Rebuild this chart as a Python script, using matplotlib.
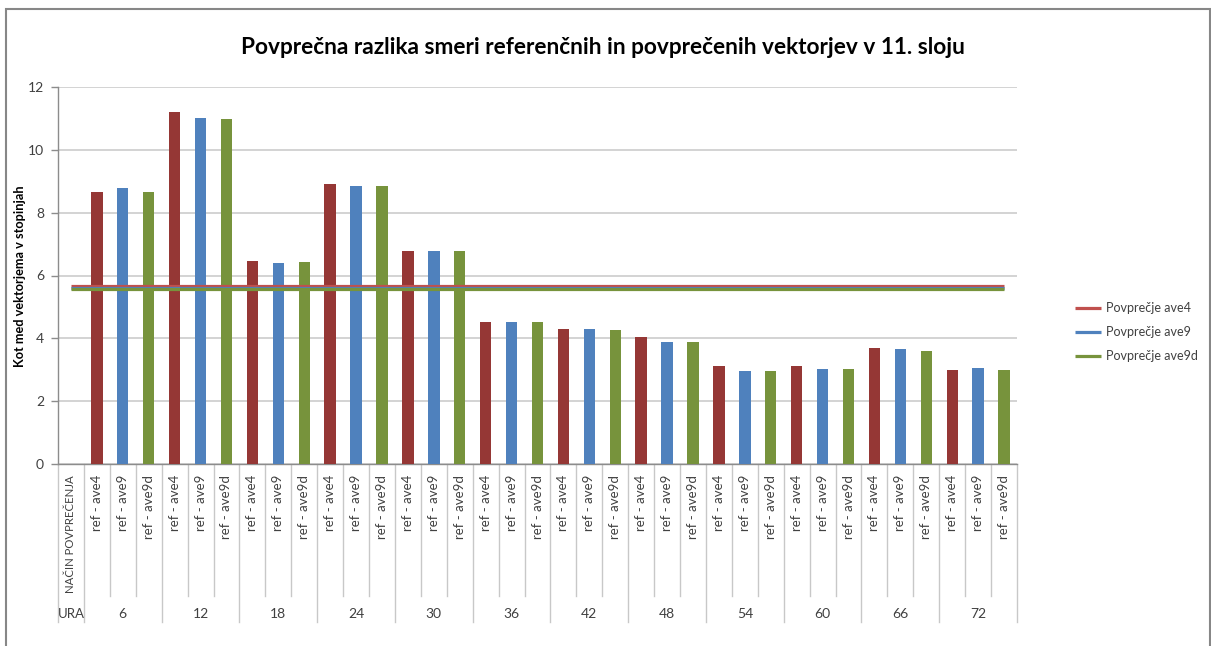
import numpy as np
import matplotlib
matplotlib.use("Agg")
import matplotlib.pyplot as plt
from matplotlib import transforms
from matplotlib.patches import Rectangle

# ---- data -------------------------------------------------------------
hours = ["6", "12", "18", "24", "30", "36", "42", "48", "54", "60", "66", "72"]
methods = ["ref - ave4", "ref - ave9", "ref - ave9d"]
ave4 = [8.67, 11.19, 6.45, 8.92, 6.79, 4.51, 4.31, 4.03, 3.11, 3.11, 3.69, 3.00]
ave9 = [8.77, 11.01, 6.41, 8.84, 6.79, 4.53, 4.31, 3.88, 2.95, 3.02, 3.65, 3.05]
ave9d = [8.67, 10.99, 6.43, 8.86, 6.77, 4.51, 4.28, 3.88, 2.95, 3.02, 3.61, 2.98]
avg_labels = ["Povprečje ave4", "Povprečje ave9", "Povprečje ave9d"]
avg_values = [5.65, 5.60, 5.58]
y_ticks = [0, 2, 4, 6, 8, 10, 12]
title = "Povprečna razlika smeri referenčnih in povprečenih vektorjev v 11. sloju"
ylabel = "Kot med vektorjema v stopinjah"
header_method = "NAČIN POVPREČENJA"
header_hour = "URA"

# ---- style ------------------------------------------------------------
FONT = ["Lato", "DejaVu Sans"]
plt.rcParams["font.family"] = FONT
W, H = 1211, 646
bar_colors = ["#953735", "#4F81BD", "#77933C"]
line_colors = ["#C0504D", "#4F81BD", "#77933C"]
grid_col = "#D0D0D0"
axis_col = "#8C8C8C"
text_col = "#404040"

fig = plt.figure(figsize=(W / 100, H / 100), dpi=100)
fig.patch.set_facecolor("white")


def fx(px):
    return px / W


def fy(py):
    return 1 - py / H


ax = fig.add_axes([fx(58), fy(464), fx(1017) - fx(58), fy(87) - fy(464)])

n_slots = 1 + len(hours) * len(methods)
ax.set_xlim(0, n_slots)
ax.set_ylim(0, 12)

# bars: slot 0 is the header column of the category table
series = [ave4, ave9, ave9d]
for m, vals in enumerate(series):
    xs = [1 + 3 * h + m + 0.5 for h in range(len(hours))]
    ax.bar(xs, vals, width=0.44, color=bar_colors[m], zorder=3)

# average lines across every category slot
slot_centers = np.arange(n_slots) + 0.5
handles = []
for k, v in enumerate(avg_values):
    ln, = ax.plot(slot_centers, [v] * n_slots, color=line_colors[k], lw=2.3,
                  solid_capstyle="butt", zorder=4 + k, label=avg_labels[k])
    handles.append(ln)

# y axis
ax.set_yticks(y_ticks)
ax.set_yticklabels([str(t) for t in y_ticks], fontsize=10, color=text_col)
ax.tick_params(axis="y", length=5, width=1, color=axis_col, pad=5)
ax.set_xticks([])
ax.yaxis.grid(True, color=grid_col, lw=1.3, zorder=0)
ax.set_axisbelow(True)
for s in ["top", "right"]:
    ax.spines[s].set_visible(False)
ax.spines["left"].set_color(axis_col)
ax.spines["bottom"].set_color(axis_col)
ax.spines["left"].set_linewidth(1)
ax.spines["bottom"].set_linewidth(1)

# ---- multi-level category table below the axis -------------------------
tr = transforms.blended_transform_factory(ax.transData, fig.transFigure)
for b in range(n_slots + 1):
    group_edge = (b == 0) or ((b - 1) % 3 == 0)
    bottom = 622 if group_edge else 596
    ax.plot([b, b], [fy(464), fy(bottom)], transform=tr, color="#C8C8C8",
            lw=1, clip_on=False, zorder=1)

for h in range(len(hours)):
    for m in range(len(methods)):
        x = 1 + 3 * h + m + 0.5
        ax.text(x, fy(475), methods[m], transform=tr, rotation=90,
                ha="center", va="top", fontsize=9.5, color=text_col)
    ax.text(1 + 3 * h + 1.5, fy(614), hours[h], transform=tr,
            ha="center", va="center", fontsize=10, color=text_col)

ax.text(0.5, fy(475), header_method, transform=tr, rotation=90,
        ha="center", va="top", fontsize=8.2, color=text_col)
ax.text(0.5, fy(614), header_hour, transform=tr, ha="center", va="center",
        fontsize=9.5, color=text_col)

# ---- titles ------------------------------------------------------------
fig.text(fx(603), fy(47), title, ha="center", va="center", fontsize=16.3,
         fontweight="bold", color="black")
fig.text(fx(20), fy(276), ylabel, ha="center", va="center", rotation=90,
         fontsize=9.2, fontweight="bold", color="black")

# ---- legend ------------------------------------------------------------
fig.legend(handles=handles, labels=avg_labels, loc="center left",
           bbox_to_anchor=(fx(1075), fy(332)), frameon=False, fontsize=9,
           handlelength=2.1, handletextpad=0.35, labelspacing=0.95,
           labelcolor=text_col, borderaxespad=0, borderpad=0)

# outer chart frame
fig.patches.append(Rectangle((fx(6), -0.05), fx(1209.5) - fx(6), fy(9) + 0.05,
                             transform=fig.transFigure, fill=False,
                             edgecolor="#878787", lw=1.5))

fig.savefig("out.png", dpi=100, facecolor="white")
